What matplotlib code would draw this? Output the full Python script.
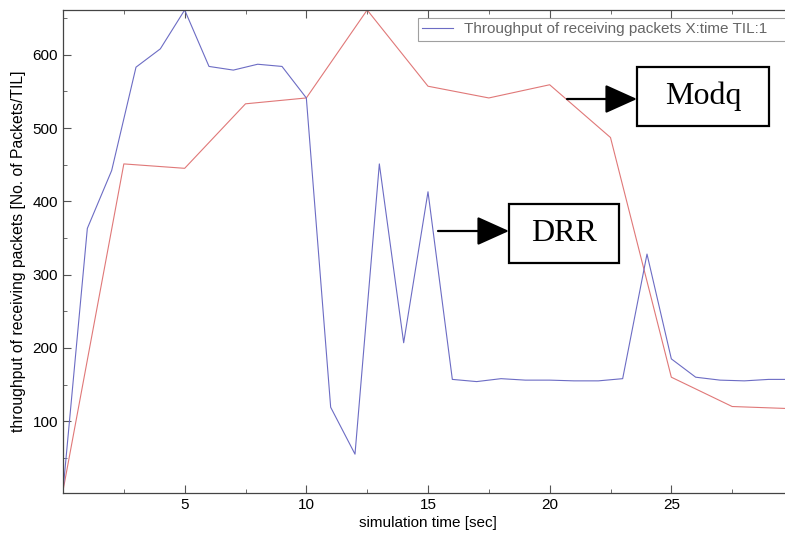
import matplotlib as mpl
mpl.use('Agg')
import matplotlib.pyplot as plt
from matplotlib.patches import Rectangle
from matplotlib.ticker import MultipleLocator

# DRR throughput, one sample per second
drr_t = list(range(0, 31))
drr_v = [5, 363, 442, 583, 608, 661, 584, 579, 587, 584,
         541, 119, 55, 451, 207, 413, 157, 154, 158, 156,
         156, 155, 155, 158, 328, 185, 160, 156, 155, 157, 157]

# Modq throughput, one sample every 2.5 s
modq_t = [0, 2.5, 5, 7.5, 10, 12.5, 15, 17.5, 20, 22.5, 25, 27.5, 30]
modq_v = [5, 451, 445, 533, 541, 661, 557, 541, 559, 487, 160, 120, 117]

legend_text = 'Throughput of receiving packets X:time TIL:1'
x_label = 'simulation time [sec]'
y_label = 'throughput of receiving packets [No. of Packets/TIL]'

W, H = 785, 538


def fx(px):
    return px / W


def fy(py):
    return 1 - py / H


def main():
    plt.rcParams['font.family'] = ['Liberation Sans', 'DejaVu Sans']
    fig = plt.figure(figsize=(W / 100, H / 100), dpi=100)
    ax = fig.add_axes([fx(63), fy(493), fx(793) - fx(63), fy(10) - fy(493)])

    ax.plot(modq_t, modq_v, color='#e07878', lw=0.8)
    blue, = ax.plot(drr_t, drr_v, color='#6c6cc4', lw=0.8)

    ax.set_xlim(0, 30)
    ax.set_ylim(2, 661)
    ax.xaxis.set_minor_locator(MultipleLocator(2.5))
    ax.yaxis.set_minor_locator(MultipleLocator(50))
    ax.set_xticks([5, 10, 15, 20, 25])
    ax.set_yticks([100, 200, 300, 400, 500, 600])
    ax.tick_params(which='both', direction='in', top=True, right=True,
                   colors='#555555', labelcolor='black', labelsize=11)
    ax.tick_params(which='major', length=6, width=0.8)
    ax.tick_params(which='minor', length=3, width=0.6)
    for s in ax.spines.values():
        s.set_color('#444444')
        s.set_linewidth(0.9)

    ax.set_xlabel(x_label, fontsize=11, labelpad=3)
    ax.set_ylabel(y_label, fontsize=11.3, labelpad=5)

    # legend box runs past the right edge, as in the cropped original
    leg = fig.legend([blue], [legend_text], loc='upper left', mode='expand',
                     bbox_to_anchor=(fx(418), fy(18), fx(400), 0.0),
                     borderaxespad=0, fontsize=11, fancybox=False,
                     handlelength=2.0, borderpad=0.28, handletextpad=0.7)
    leg.get_frame().set_edgecolor('#888888')
    leg.get_frame().set_linewidth(0.8)
    for t in leg.get_texts():
        t.set_color('#666666')

    # annotation boxes with arrows
    for (x0, y0, x1, y1, label, ax0, ay) in [
            (637, 67, 769, 126, 'Modq', 567, 99),
            (509, 204, 619, 263, 'DRR', 438, 231)]:
        fig.add_artist(Rectangle((fx(x0), fy(y1)), fx(x1) - fx(x0), fy(y0) - fy(y1),
                                 transform=fig.transFigure, fill=True,
                                 facecolor='white', edgecolor='black', lw=1.6))
        fig.text(fx((x0 + x1) / 2), fy((y0 + y1) / 2), label,
                 family='Liberation Serif', fontsize=23, ha='center', va='center')
        ax.annotate('', xy=(fx(x0), fy(ay)), xytext=(fx(ax0), fy(ay)),
                    xycoords='figure fraction', textcoords='figure fraction',
                    arrowprops=dict(arrowstyle='-|>,head_length=1.0,head_width=0.45',
                                    mutation_scale=20, color='black', lw=1.6,
                                    shrinkA=0, shrinkB=0))

    plt.savefig('out.png', dpi=100)


if __name__ == '__main__':
    main()
